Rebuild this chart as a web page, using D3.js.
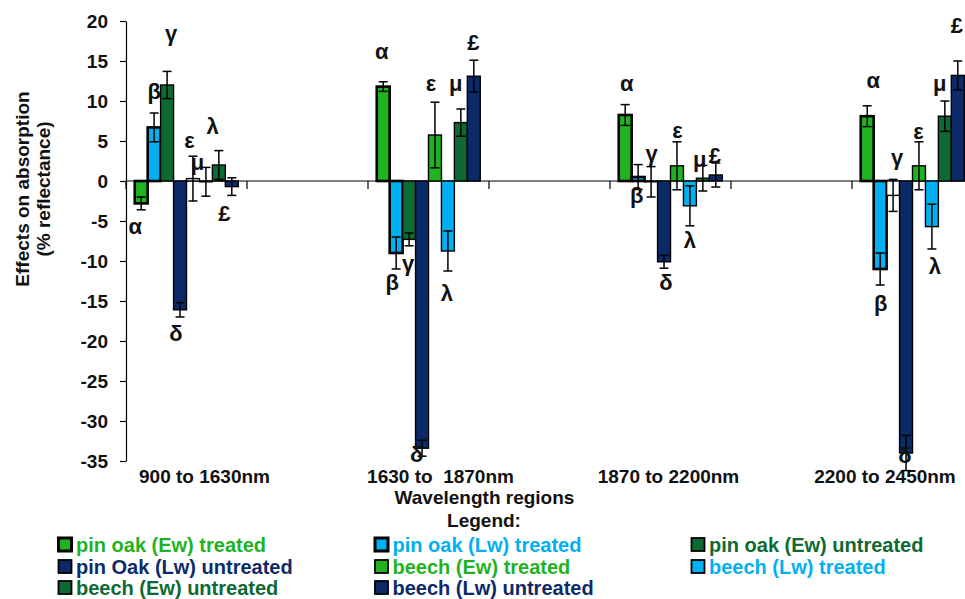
<!DOCTYPE html>
<html><head><meta charset="utf-8">
<script src="https://cdn.jsdelivr.net/npm/d3@7/dist/d3.min.js"></script>
<style>
body{margin:0;background:#fff}
svg{display:block;background:#fff}
text{font-family:"Liberation Sans",Arial,Helvetica,sans-serif;font-weight:bold}
</style>
</head><body>
<svg id="chart" width="965" height="599"></svg>
<script>
// ---------------- DATA ----------------
const categoryLabels = ["900 to 1630nm", "", "1630 to  1870nm", "", "1870 to 2200nm", "", "2200 to 2450nm"];
const dataCategoryIndex = [0, 2, 4, 6];   // the four wavelength regions that carry bars
const seriesNames = ["pin oak (Ew) treated", "pin oak (Lw) treated", "pin oak (Ew) untreated",
  "pin Oak (Lw) untreated", "beech (Ew) treated", "beech (Lw) treated",
  "beech (Ew) untreated", "beech (Lw) untreated"];
const seriesSymbols = ["α", "β", "γ", "δ", "ε", "λ", "μ", "£"];

const pinOakEwTreated    = [-2.8, 11.8, 8.25, 8.1];
const pinOakLwTreated    = [6.7, -9.0, 0.5, -11.0];
const pinOakEwUntreated  = [12.0, -7.3, -0.1, -1.8];
const pinOakLwUntreated  = [-16.1, -33.4, -10.1, -34.0];
const beechEwTreated     = [0.3, 5.75, 1.9, 1.9];
const beechLwTreated     = [-0.1, -8.75, -3.1, -5.7];
const beechEwUntreated   = [2.0, 7.3, 0.35, 8.1];
const beechLwUntreated   = [-0.7, 13.1, 0.75, 13.2];

const pinOakEwTreatedErr   = [0.8, 0.6, 1.3, 1.3];
const pinOakLwTreatedErr   = [1.8, 2.0, 1.55, 2.0];
const pinOakEwUntreatedErr = [1.7, 0.8, 1.9, 2.0];
const pinOakLwUntreatedErr = [0.9, 1.0, 0.8, 2.2];
const beechEwTreatedErr    = [2.8, 4.1, 3.0, 3.0];
const beechLwTreatedErr    = [1.8, 2.5, 2.5, 2.8];
const beechEwUntreatedErr  = [1.8, 1.7, 1.6, 1.9];
const beechLwUntreatedErr  = [1.1, 2.0, 1.5, 1.8];

const yTicks = [20, 15, 10, 5, 0, -5, -10, -15, -20, -25, -30, -35];

// ---------------- STYLE / LAYOUT ----------------
const seriesValues = [pinOakEwTreated, pinOakLwTreated, pinOakEwUntreated, pinOakLwUntreated,
  beechEwTreated, beechLwTreated, beechEwUntreated, beechLwUntreated];
const seriesErrors = [pinOakEwTreatedErr, pinOakLwTreatedErr, pinOakEwUntreatedErr, pinOakLwUntreatedErr,
  beechEwTreatedErr, beechLwTreatedErr, beechEwUntreatedErr, beechLwUntreatedErr];
const seriesColors = ["#1fb31f", "#00b0f0", "#0d6a32", "#0c2a68", "#1fb31f", "#00b0f0", "#0d6a32", "#0c2a68"];
const seriesStroke = [2.6, 2.6, 1.4, 1.4, 1.4, 1.4, 1.4, 1.4];
const hollowBars = ["0-4", "0-5", "2-2", "3-2"];   // bars shown unfilled in the original
// annotation letter placement: horizontal nudge (px) from bar centre, vertical position in axis units
const labelDx = [
  [-6, 0, 4, -4, -3.5, 6.6, -21.3, -7.5],
  [-1.5, -4, -1, -5.3, -4, -1, -5, -0.5],
  [1.5, -1.5, 0.5, 2, 0.5, 0, -3, -1],
  [6, 0.5, 4, -1, -0.5, 3, -5, -1]];
const labelAt = [
  [-5.7, 11.2, 18.5, -19, 5.1, 6.8, 2.4, -4.0],
  [16.2, -12.7, -10.3, -34.1, 12.2, -14.0, 12.2, 17.3],
  [12.2, -1.75, 3.5, -12.6, 6.4, -7.4, 2.7, 3.25],
  [12.6, -15.3, 3.0, -34.3, 6.2, -10.7, 12.2, 19.5]];
const catLabelDx = [18, 0, 12, 0, -2, 0, -27.5];

const svg = d3.select("#chart");
const x0 = d3.scaleBand().domain(d3.range(categoryLabels.length)).range([126, 973]).padding(0);
const x1 = d3.scaleBand().domain(d3.range(seriesNames.length)).range([0, x0.bandwidth()])
  .paddingInner(0).paddingOuter(0.675);
const y = d3.scaleLinear().domain([-35, 20]).range([461, 21]);

// Y axis
const yAxis = svg.append("g").attr("transform", `translate(${x0.range()[0]},0)`)
  .call(d3.axisLeft(y).tickValues(yTicks).tickFormat(d => String(d))
    .tickSize(6).tickSizeOuter(0).tickPadding(12));
yAxis.select(".domain").attr("stroke", "#000").attr("stroke-width", 1.2);
yAxis.selectAll(".tick line").attr("stroke", "#000").attr("stroke-width", 1.2);
yAxis.selectAll(".tick text").attr("fill", "#111").style("font-size", "19px")
  .style("font-family", "'Liberation Sans',Arial,sans-serif").style("font-weight", "bold");

// X axis at zero
const xAxisG = svg.append("g");
xAxisG.append("line").attr("x1", x0.range()[0]).attr("x2", x0.range()[1])
  .attr("y1", y(0)).attr("y2", y(0)).attr("stroke", "#000").attr("stroke-width", 1.2);
xAxisG.selectAll("line.tk").data(d3.range(categoryLabels.length + 1)).join("line").attr("class", "tk")
  .attr("x1", i => x0.range()[0] + i * x0.step()).attr("x2", i => x0.range()[0] + i * x0.step())
  .attr("y1", y(0)).attr("y2", y(0) + 8).attr("stroke", "#000").attr("stroke-width", 1.2);

// category labels
svg.append("g").selectAll("text").data(categoryLabels).join("text")
  .attr("x", (d, i) => x0(i) + x0.bandwidth() / 2 + catLabelDx[i])
  .attr("y", y(-35) + 15.5).attr("dy", "0.35em")
  .attr("text-anchor", "middle").style("font-size", "19px").style("white-space", "pre")
  .attr("fill", "#111").text(d => d);

// bars
const flat = [];
dataCategoryIndex.forEach((c, g) => {
  seriesValues.forEach((vals, s) => {
    flat.push({g, c, s, v: vals[g], e: seriesErrors[s][g]});
  });
});
const barG = svg.append("g");
barG.selectAll("rect").data(flat).join("rect")
  .attr("x", d => x0(d.c) + x1(d.s))
  .attr("width", x1.bandwidth())
  .attr("y", d => y(Math.max(0, d.v)))
  .attr("height", d => Math.abs(y(d.v) - y(0)))
  .attr("fill", d => hollowBars.includes(d.g + "-" + d.s) ? "#fff" : seriesColors[d.s])
  .attr("stroke", "#000")
  .attr("stroke-width", d => seriesStroke[d.s]);

// error bars
const errG = svg.append("g").attr("stroke", "#000").attr("stroke-width", 1.5);
flat.forEach(d => {
  const cx = x0(d.c) + x1(d.s) + x1.bandwidth() / 2;
  const yt = y(d.v + d.e), yb = y(d.v - d.e);
  errG.append("line").attr("x1", cx).attr("x2", cx).attr("y1", yt).attr("y2", yb);
  errG.append("line").attr("x1", cx - 4.5).attr("x2", cx + 4.5).attr("y1", yt).attr("y2", yt);
  errG.append("line").attr("x1", cx - 4.5).attr("x2", cx + 4.5).attr("y1", yb).attr("y2", yb);
});

// symbol annotations
svg.append("g").selectAll("text").data(flat).join("text")
  .attr("x", d => x0(d.c) + x1(d.s) + x1.bandwidth() / 2 + labelDx[d.g][d.s])
  .attr("y", d => y(labelAt[d.g][d.s])).attr("dy", "0.35em")
  .attr("text-anchor", "middle").style("font-size", "22px").attr("fill", "#111")
  .text(d => seriesSymbols[d.s]);

// Y title
svg.append("text").attr("transform", "translate(22,189) rotate(-90)")
  .attr("text-anchor", "middle").attr("dy", "0.35em").style("font-size", "19px").attr("fill", "#111")
  .text("Effects on absorption");
svg.append("text").attr("transform", "translate(43.5,189) rotate(-90)")
  .attr("text-anchor", "middle").attr("dy", "0.35em").style("font-size", "19px").attr("fill", "#111")
  .text("(% reflectance)");

// X title and legend heading
svg.append("text").attr("x", 484.5).attr("y", 497).attr("dy", "0.35em").attr("text-anchor", "middle")
  .style("font-size", "19px").attr("fill", "#111").text("Wavelength regions");
svg.append("text").attr("x", 484).attr("y", 520.5).attr("dy", "0.35em").attr("text-anchor", "middle")
  .style("font-size", "19px").attr("fill", "#111").text("Legend:");

// legend
const legCols = [58.5, 375, 691.5], legRows = [544.5, 566.5, 587.5];
const leg = svg.append("g").selectAll("g").data(seriesNames).join("g")
  .attr("transform", (d, i) => `translate(${legCols[i % 3]},${legRows[Math.floor(i / 3)]})`);
leg.append("rect").attr("x", 0).attr("y", -6.5).attr("width", 13).attr("height", 13)
  .attr("fill", (d, i) => seriesColors[i]).attr("stroke", "#000")
  .attr("stroke-width", (d, i) => seriesStroke[i] + 0.4);
leg.append("text").attr("x", 17.5).attr("dy", "0.35em").style("font-size", "20px")
  .attr("fill", (d, i) => seriesColors[i]).text(d => d);
</script>
</body></html>
